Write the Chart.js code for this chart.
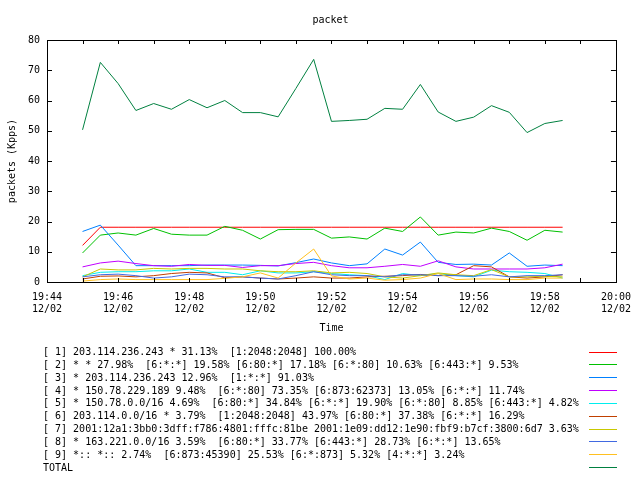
<!DOCTYPE html>
<html><head><meta charset="utf-8">
<script src="https://cdn.jsdelivr.net/npm/chart.js@4"></script>
<style>html,body{margin:0;padding:0;background:#fff}canvas{display:block}</style>
</head><body>
<canvas id="c" width="640" height="480"></canvas>
<script>
const chartTitle = 'packet';
const xTitle = 'Time';
const yTitle = 'packets (Kpps)';
const dateLabel = '12/02';
const startTime = '19:44';

const times = ['19:45:00','19:45:30','19:46:00','19:46:30','19:47:00','19:47:30','19:48:00','19:48:30','19:49:00','19:49:30',
  '19:50:00','19:50:30','19:51:00','19:51:30','19:52:00','19:52:30','19:53:00','19:53:30','19:54:00','19:54:30',
  '19:55:00','19:55:30','19:56:00','19:56:30','19:57:00','19:57:30','19:58:00','19:58:30'];

const s1 = [12.1,18.1,18.1,18.1,18.1,18.1,18.1,18.1,18.1,18.1,18.1,18.1,18.1,18.1,18.1,18.1,18.1,18.1,18.1,18.1,18.1,18.1,18.1,18.1,18.1,18.1,18.1,18.1];
const s2 = [9.6,15.5,16.2,15.5,17.7,15.8,15.5,15.5,18.4,17.1,14.2,17.3,17.4,17.4,14.5,14.9,14.2,17.8,16.7,21.5,15.5,16.5,16.2,17.8,16.7,13.8,17.1,16.5];
const s3 = [16.7,18.8,12.2,5.4,5.4,5.4,5.4,5.6,5.6,5.6,5.5,5.3,6.4,7.6,6.3,5.4,6.0,10.9,8.9,13.2,6.5,5.8,5.9,5.6,9.6,5.2,5.6,5.4];
const s4 = [5.0,6.3,6.9,6.1,5.4,5.2,5.8,5.5,5.5,4.8,5.4,5.4,6.1,6.5,5.4,4.7,4.7,5.2,5.8,5.2,7.0,5.0,4.3,4.3,4.3,4.3,4.7,5.9];
const s5 = [2.1,3.2,3.4,3.4,3.7,3.7,4.3,3.2,3.2,2.4,3.7,3.0,3.0,3.4,2.8,2.4,2.1,0.8,2.8,2.1,2.8,2.1,1.7,3.9,3.4,3.2,2.8,1.3];
const s6 = [1.0,1.9,2.0,1.7,2.1,2.8,3.2,3.0,1.4,1.7,1.3,1.0,1.3,1.7,1.3,1.3,1.7,1.9,2.1,2.5,2.1,2.4,5.4,5.0,1.7,1.3,1.7,2.4];
const s7 = [1.7,4.3,4.0,4.0,4.5,4.3,4.5,4.5,4.3,4.3,3.7,3.4,3.4,3.7,3.0,3.2,2.8,1.7,1.3,2.1,3.0,2.4,2.1,4.1,1.7,1.7,1.9,1.7];
const s8 = [1.7,2.4,2.6,2.1,1.3,1.7,2.6,2.4,1.7,1.7,1.3,1.0,2.1,3.4,2.4,2.1,2.1,1.7,2.4,2.4,2.1,2.1,1.9,2.4,1.7,2.1,2.1,2.4];
const s9 = [0.3,0.8,1.0,0.8,0.8,0.8,0.8,0.8,1.2,1.7,3.0,1.3,6.3,10.9,2.0,1.0,1.3,0.6,0.8,1.3,2.8,0.8,1.0,1.0,0.8,0.8,1.3,1.3];
const total = [50.3,72.6,65.6,56.7,59.0,57.1,60.3,57.6,60.0,56.0,56.0,54.6,64.0,73.6,53.1,53.4,53.8,57.4,57.1,65.3,56.2,53.1,54.5,58.3,56.1,49.4,52.4,53.4];

const seriesLabels = [
  '[ 1] 203.114.236.243 * 31.13%  [1:2048:2048] 100.00%',
  '[ 2] * * 27.98%  [6:*:*] 19.58% [6:80:*] 17.18% [6:*:80] 10.63% [6:443:*] 9.53%',
  '[ 3] * 203.114.236.243 12.96%  [1:*:*] 91.03%',
  '[ 4] * 150.78.229.189 9.48%  [6:*:80] 73.35% [6:873:62373] 13.05% [6:*:*] 11.74%',
  '[ 5] * 150.78.0.0/16 4.69%  [6:80:*] 34.84% [6:*:*] 19.90% [6:*:80] 8.85% [6:443:*] 4.82%',
  '[ 6] 203.114.0.0/16 * 3.79%  [1:2048:2048] 43.97% [6:80:*] 37.38% [6:*:*] 16.29%',
  '[ 7] 2001:12a1:3bb0:3dff:f786:4801:fffc:81be 2001:1e09:dd12:1e90:fbf9:b7cf:3800:6d7 3.63%',
  '[ 8] * 163.221.0.0/16 3.59%  [6:80:*] 33.77% [6:443:*] 28.73% [6:*:*] 13.65%',
  '[ 9] *:: *:: 2.74%  [6:873:45390] 25.53% [6:*:873] 5.32% [4:*:*] 3.24%',
  'TOTAL'
];
const seriesColors = ['#ff0000','#00c000','#0080ff','#c000ff','#00eeee','#c04000','#c8c800','#4169e1','#ffc020','#008040'];
const seriesValues = [s1,s2,s3,s4,s5,s6,s7,s8,s9,total];

const baseMin = (() => { const [h,m] = startTime.split(':').map(Number); return h*60+m; })();
const toMin = t => { const [h,m,s] = t.split(':').map(Number); return h*60 + m + s/60 - baseMin; };
const fmtMin = v => { const t = baseMin + v; const h = Math.floor(t/60), m = Math.round(t%60); return String(h).padStart(2,'0') + ':' + String(m).padStart(2,'0'); };

Chart.defaults.font.family = "'DejaVu Sans Mono', monospace";
Chart.defaults.font.size = 10;
Chart.defaults.color = '#000';

const datasets = seriesValues.map((vals, i) => ({
  label: seriesLabels[i],
  data: vals.map((v, j) => ({x: toMin(times[j]), y: v})),
  borderColor: seriesColors[i],
  backgroundColor: seriesColors[i],
  borderWidth: 1,
  pointRadius: 0,
  tension: 0,
  fill: false,
  order: seriesValues.length - i
}));

const gnuplotDecor = {
  id: 'gnuplotDecor',
  afterDraw(chart) {
    const ctx = chart.ctx;
    const a = chart.chartArea;
    const xs = chart.scales.x, ys = chart.scales.y;
    ctx.save();
    ctx.strokeStyle = '#000';
    ctx.lineWidth = 1;
    ctx.beginPath();
    for (let v = xs.min + 1; v < xs.max; v += 1) {
      const px = Math.round(xs.getPixelForValue(v)) + 0.5;
      ctx.moveTo(px, a.bottom); ctx.lineTo(px, a.bottom - 4);
      ctx.moveTo(px, a.top); ctx.lineTo(px, a.top + 4);
    }
    for (let v = ys.min + 10; v < ys.max; v += 10) {
      const py = Math.round(ys.getPixelForValue(v)) + 0.5;
      ctx.moveTo(a.left, py); ctx.lineTo(a.left + 5, py);
      ctx.moveTo(a.right, py); ctx.lineTo(a.right - 5, py);
    }
    ctx.stroke();
    ctx.strokeRect(Math.round(a.left) + 0.5, Math.round(a.top) + 0.5, Math.round(a.right - a.left), Math.round(a.bottom - a.top));
    ctx.fillStyle = '#000';
    ctx.font = "10px 'DejaVu Sans Mono', monospace";
    ctx.textAlign = 'center';
    ctx.textBaseline = 'middle';
    ctx.fillText(chartTitle, (a.left + a.right) / 2 - 1, 20);
    ctx.textAlign = 'left';
    chart.data.datasets.forEach((ds, i) => {
      const y = 352.5 + i * 12.85;
      ctx.fillStyle = '#000';
      ctx.fillText(ds.label, 43, y);
      ctx.strokeStyle = ds.borderColor;
      ctx.beginPath();
      const ly = Math.round(y - 1) + 0.5;
      ctx.moveTo(589, ly); ctx.lineTo(617, ly);
      ctx.stroke();
    });
    ctx.restore();
  }
};

new Chart(document.getElementById('c'), {
  type: 'line',
  data: { datasets },
  plugins: [gnuplotDecor],
  options: {
    responsive: false,
    animation: false,
    devicePixelRatio: 1,
    layout: { padding: { top: 40, right: 19, bottom: 143, left: 0 } },
    plugins: { legend: { display: false }, tooltip: { enabled: false }, title: { display: false } },
    scales: {
      x: {
        type: 'linear', min: 0, max: 16,
        afterFit: s => { s.height = 55; },
        grid: { display: false, drawTicks: false },
        border: { display: false },
        ticks: { stepSize: 2, autoSkip: false, maxRotation: 0, padding: 9,
          callback: v => [fmtMin(v), dateLabel] },
        title: { display: true, text: xTitle, padding: { top: 0, bottom: 3 } }
      },
      y: {
        min: 0, max: 80,
        afterFit: s => { s.width = 47; },
        grid: { display: false, drawTicks: false },
        border: { display: false },
        ticks: { stepSize: 10, padding: 7 },
        title: { display: true, text: yTitle, padding: { top: 6, bottom: 0 } }
      }
    }
  }
});
</script>
</body></html>
